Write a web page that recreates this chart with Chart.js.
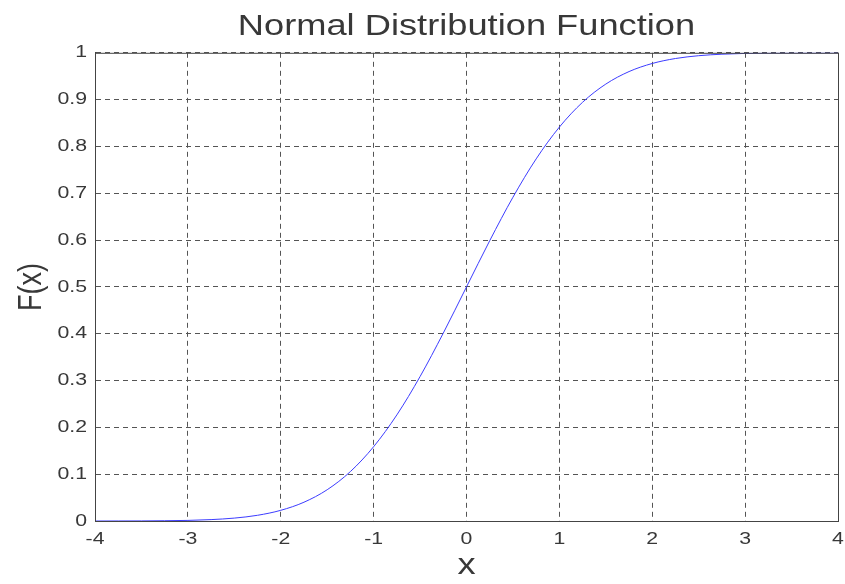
<!DOCTYPE html>
<html>
<head>
<meta charset="utf-8">
<script src="https://cdn.jsdelivr.net/npm/chart.js@4.4.0/dist/chart.umd.min.js"></script>
<style>
  html, body { margin: 0; padding: 0; background: #fff; }
  #wrap { width: 845px; height: 584px; }
</style>
</head>
<body>
<div id="wrap"><canvas id="grafica" width="845" height="584"></canvas></div>
<script>
// valores
const valoresX = [-4, -3.75, -3.5, -3.25, -3, -2.75, -2.5, -2.25, -2, -1.75, -1.5, -1.25, -1, -0.75, -0.5, -0.25,
    0, 0.25, 0.5, 0.75, 1, 1.25, 1.5, 1.75, 2, 2.25, 2.5, 2.75, 3, 3.25, 3.5, 3.75, 4];
const valoresF = [0, 0.0001, 0.0002, 0.0006, 0.0013, 0.003, 0.0062, 0.0122, 0.0228, 0.0401, 0.0668, 0.1056, 0.1587, 0.2266, 0.3085, 0.4013,
    0.5, 0.5987, 0.6915, 0.7734, 0.8413, 0.8944, 0.9332, 0.9599, 0.9772, 0.9878, 0.9938, 0.997, 0.9987, 0.9994, 0.9998, 0.9999, 1];
const ticksX = [-4, -3, -2, -1, 0, 1, 2, 3, 4];
const ticksY = [0, 0.1, 0.2, 0.3, 0.4, 0.5, 0.6, 0.7, 0.8, 0.9, 1];

const puntos = valoresX.map((x, i) => ({ x: x, y: valoresF[i] }));

// el texto del original sale estirado a lo ancho
const estirarTexto = {
    id: 'estirarTexto',
    beforeInit(chart) {
        const ctx = chart.ctx;
        const original = ctx.fillText.bind(ctx);
        ctx.fillText = function (texto, x, y, maxW) {
            const m = ctx.getTransform();
            const p = m.transformPoint(new DOMPoint(x, y));
            ctx.save();
            ctx.setTransform(new DOMMatrix().translate(p.x, p.y).scale(1.25, 1).translate(-p.x, -p.y).multiply(m));
            if (maxW === undefined) original(texto, x, y);
            else original(texto, x, y, maxW);
            ctx.restore();
        };
    }
};

// marco completo alrededor del area de la grafica
const marco = {
    id: 'marco',
    afterDraw(chart) {
        const a = chart.chartArea;
        const ctx = chart.ctx;
        ctx.save();
        ctx.strokeStyle = '#444';
        ctx.lineWidth = 1;
        ctx.setLineDash([]);
        ctx.strokeRect(a.left + 0.5, a.top + 0.5, a.right - a.left, a.bottom - a.top);
        ctx.restore();
    }
};

const fuente = "'Liberation Sans', Arial, sans-serif";
const colorTexto = '#383838';

new Chart(document.getElementById('grafica').getContext('2d'), {
    type: 'line',
    data: {
        datasets: [{
            data: puntos,
            borderColor: 'rgb(60, 60, 255)',
            borderWidth: 1,
            pointRadius: 0,
            fill: false,
            cubicInterpolationMode: 'monotone'
        }]
    },
    options: {
        responsive: false,
        animation: false,
        layout: { padding: { left: 0, right: 0, top: 0, bottom: 0 } },
        plugins: {
            legend: { display: false },
            tooltip: { enabled: false },
            title: {
                display: true,
                fullSize: false,
                text: 'Normal Distribution Function',
                color: colorTexto,
                font: { family: fuente, size: 29, weight: 'normal' },
                padding: { top: 10, bottom: 8 }
            }
        },
        scales: {
            x: {
                type: 'linear',
                min: -4,
                max: 4,
                afterBuildTicks: (s) => { s.ticks = ticksX.map(v => ({ value: v })); },
                afterFit: (s) => { s.height = 63; s.paddingRight = 7; s.paddingLeft = 0; },
                grid: {
                    color: '#555',
                    lineWidth: 1,
                    drawTicks: false
                },
                border: { color: '#444', dash: [5, 4], display: true },
                ticks: {
                    color: colorTexto,
                    padding: 8,
                    font: { family: fuente, size: 17 }
                },
                title: {
                    display: true,
                    text: 'x',
                    color: colorTexto,
                    font: { family: fuente, size: 29 },
                    padding: { top: 0, bottom: 1 }
                }
            },
            y: {
                min: 0,
                max: 1,
                afterBuildTicks: (s) => { s.ticks = ticksY.map(v => ({ value: v })); },
                afterFit: (s) => { s.width = 95; },
                grid: {
                    color: '#555',
                    lineWidth: 1,
                    drawTicks: false
                },
                border: { color: '#444', dash: [5, 4], display: true },
                ticks: {
                    color: colorTexto,
                    padding: 8,
                    font: { family: fuente, size: 17 },
                    callback: (v) => String(Math.round(v * 10) / 10)
                },
                title: {
                    display: true,
                    text: 'F(x)',
                    color: colorTexto,
                    font: { family: fuente, size: 27 },
                    padding: { top: 15, bottom: 0 }
                }
            }
        }
    },
    plugins: [estirarTexto, marco]
});
</script>
</body>
</html>
